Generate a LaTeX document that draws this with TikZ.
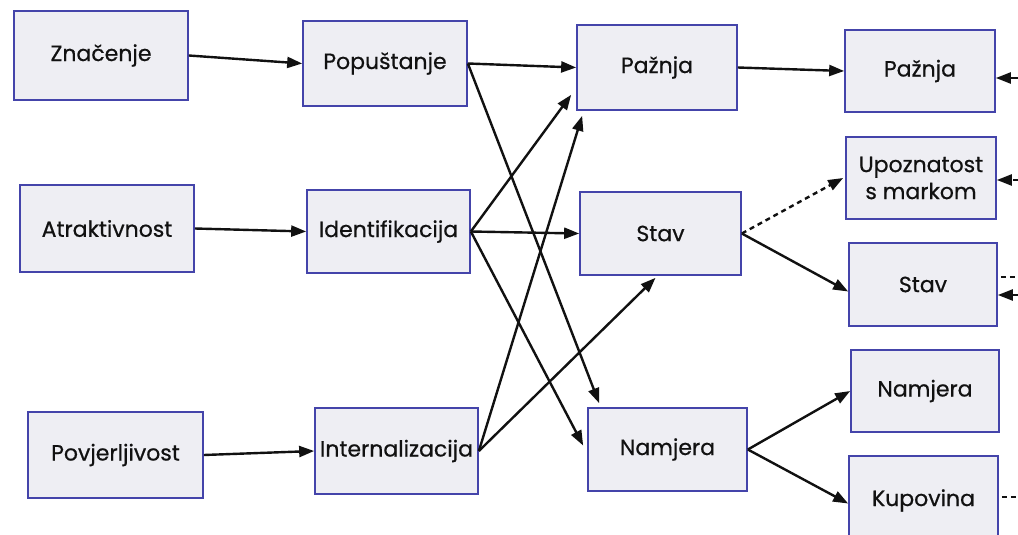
\documentclass[tikz,border=0pt]{standalone}
\usepackage{fontspec}
\setmainfont{Poppins}[FakeBold=0.6]
\usetikzlibrary{arrows.meta}
\definecolor{boxfill}{HTML}{EEEEF3}
\definecolor{boxline}{HTML}{4444AA}
\definecolor{ink}{HTML}{111111}
\tikzset{
  box/.style={draw=boxline, fill=boxfill, line width=1.7pt, inner sep=0pt, align=center,
    text=ink, font=\fontsize{22}{27}\selectfont},
  conn/.style={draw=ink, line width=2.4pt, -{Triangle[length=15pt,width=11pt]}},
  dconn/.style={conn, dash pattern=on 5pt off 4pt},
  dline/.style={draw=ink, line width=2.4pt, dash pattern=on 5pt off 4pt},
}
\begin{document}
\begin{tikzpicture}[x=1pt,y=-1pt]
\useasboundingbox[fill=white] (0,0) rectangle (1018,535);
% column 1
\node[box, minimum width=174pt, minimum height=89pt] (Z) at (101,55.5) {Značenje};
\node[box, minimum width=174pt, minimum height=87pt] (Atr) at (107,228.5) {Atraktivnost};
\node[box, minimum width=175pt, minimum height=86pt] (Pov) at (115.5,455) {Povjerljivost};
% column 2
\node[box, minimum width=164pt, minimum height=85pt] (Pop) at (385,63.5) {Popuštanje};
\node[box, minimum width=163pt, minimum height=83pt] (Id) at (388.5,231.5) {Identifikacija};
\node[box, minimum width=163pt, minimum height=86pt] (Int) at (396.5,451) {Internalizacija};
% column 3
\node[box, minimum width=160pt, minimum height=85pt] (Paz) at (657,67.5) {Pažnja};
\node[box, minimum width=161pt, minimum height=83pt] (Stav) at (660.5,233.5) {Stav};
\node[box, minimum width=159pt, minimum height=83pt] (Nam) at (667.5,449.5) {Namjera};
% column 4
\node[box, minimum width=150pt, minimum height=82pt] (PazR) at (920,71) {Pažnja};
\node[box, minimum width=150pt, minimum height=82pt] (Upoz) at (921,178) {Upoznatost\\s markom};
\node[box, minimum width=148pt, minimum height=83pt] (StavR) at (923,284.5) {Stav};
\node[box, minimum width=148pt, minimum height=82pt] (NamR) at (925,391) {Namjera};
\node[box, minimum width=149pt, minimum height=89pt] (Kup) at (923.5,500.5) {Kupovina};
% free ends at the right edge
\coordinate (e1) at (1018,78);
\coordinate (e2) at (1018,180);
\coordinate (e3) at (1018,277);
\coordinate (e4) at (1018,295);
\coordinate (e5) at (1018,497);
% connectors
\draw[conn] (Z.east) -- (Pop.west);
\draw[conn] (Atr.east) -- (Id.west);
\draw[conn] (Pov.east) -- (Int.west);
\draw[conn] (Pop.east) -- (Paz.west);
\draw[conn] (Pop.east) -- ([xshift=12pt,yshift=4pt]Nam.north west);
\draw[conn] (Id.east) -- ([xshift=-5pt,yshift=16pt]Paz.south west);
\draw[conn] (Id.east) -- (Stav.west);
\draw[conn] (Id.east) -- ([xshift=-4pt,yshift=4pt]Nam.west);
\draw[conn] (Int.east) -- ([xshift=6pt,yshift=-5pt]Paz.south west);
\draw[conn] (Int.east) -- ([xshift=-5pt,yshift=-2pt]Stav.south);
\draw[conn] (Paz.east) -- (PazR.west);
\draw[dconn] (Stav.east) -- ([xshift=-2pt]Upoz.west);
\draw[conn] (Stav.east) -- ([yshift=-7pt]StavR.west);
\draw[conn] (Nam.east) -- (NamR.west);
\draw[conn] (Nam.east) -- ([yshift=-3pt]Kup.west);
\draw[conn] (e1) -- ([yshift=-7pt]PazR.east);
\draw[dconn] (e2) -- ([yshift=-2pt]Upoz.east);
\draw[dline] ([xshift=3pt,yshift=7.5pt]StavR.east) -- (e3);
\draw[conn] (e4) -- ([yshift=-10.5pt]StavR.east);
\draw[dline] ([xshift=3pt,yshift=3.5pt]Kup.east) -- (e5);
\end{tikzpicture}
\end{document}
